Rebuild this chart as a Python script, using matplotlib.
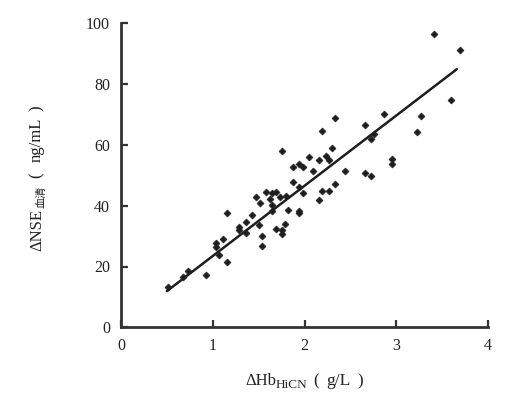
import matplotlib
matplotlib.use("Agg")
import matplotlib.pyplot as plt
from matplotlib.transforms import IdentityTransform

# 数据：ΔHb(HiCN) 与 ΔNSE(血清)
hb = [0.51, 0.68, 0.73, 0.93, 1.04, 1.04, 1.11, 1.07, 1.15, 1.15,
      1.29, 1.29, 1.36, 1.36, 1.43, 1.50, 1.54, 1.54, 1.47, 1.51,
      1.58, 1.62, 1.65, 1.65, 1.69, 1.73, 1.80, 1.65, 1.82, 1.94,
      1.94, 1.69, 1.76, 1.76, 1.79, 1.76, 1.87, 1.94, 1.98, 2.05,
      2.09, 2.16, 2.23, 2.27, 2.30, 2.19, 2.33, 1.87, 1.94, 1.98,
      2.19, 2.27, 2.33, 2.16, 2.44, 2.66, 2.73, 2.76, 2.87, 2.95,
      2.95, 2.66, 2.73, 3.23, 3.27, 3.60, 3.41, 3.70]
nse = [13.2, 16.4, 18.6, 17.2, 27.8, 26.5, 29.0, 23.8, 21.6, 37.5,
       33.1, 32.0, 34.5, 31.1, 36.9, 33.6, 30.1, 26.7, 42.8, 41.0,
       44.6, 42.2, 40.2, 44.3, 44.6, 43.0, 43.2, 38.4, 38.6, 38.4,
       37.5, 32.4, 32.0, 30.6, 33.9, 58.0, 52.8, 53.6, 52.8, 56.1,
       51.4, 54.9, 56.5, 55.0, 58.9, 64.7, 68.8, 47.7, 46.2, 44.1,
       45.0, 44.8, 47.1, 42.0, 51.5, 66.5, 62.0, 63.5, 70.3, 55.5,
       53.7, 50.6, 49.9, 64.3, 69.6, 74.8, 96.6, 91.2]

# 回归线两端
fit_hb = [0.50, 3.66]
fit_nse = [11.9, 84.9]

xticks = [0, 1, 2, 3, 4]
yticks = [0, 20, 40, 60, 80, 100]

plt.rcParams['font.family'] = ['Liberation Serif', 'Noto Sans CJK SC']
ink = '#1e1e1e'

fig = plt.figure(figsize=(5.24, 3.94), dpi=100)
ax = fig.add_axes([121 / 524, 1 - 327.3 / 394, 367 / 524, 304 / 394])
ax.plot(fit_hb, fit_nse, color=ink, lw=1.8, solid_capstyle='round')
ax.scatter(hb, nse, marker='D', s=13, color=ink, linewidths=0.4,
           edgecolors=ink, zorder=3, clip_on=False)
ax.set_xlim(0, 4)
ax.set_ylim(0, 100)
ax.set_xticks(xticks)
ax.set_yticks(yticks)
for s in ['top', 'right']:
    ax.spines[s].set_visible(False)
for s in ['left', 'bottom']:
    ax.spines[s].set_linewidth(2)
    ax.spines[s].set_color('#333333')
ax.tick_params(direction='in', length=5, width=1.6, color='#333333',
               labelsize=11.5, pad=8, labelcolor='#222222')

fig.canvas.draw()
r = fig.canvas.get_renderer()
H = 394


def put_row(pieces, x, y, rot=0):
    # pieces: (文本, 字号, 垂直偏移 px, 字体) 或者一个数字 = 空隙 px
    for p in pieces:
        if not isinstance(p, tuple):
            if rot == 0:
                x += p
            else:
                y += p
            continue
        txt, size, off, fam = p
        if rot == 0:
            t = fig.text(x, y + off, txt, fontsize=size, family=fam,
                         color='#222222', transform=IdentityTransform(),
                         ha='left', va='baseline')
            x += t.get_window_extent(r).width
        else:
            t = fig.text(x - off, y, txt, fontsize=size, family=fam,
                         color='#222222', transform=IdentityTransform(),
                         rotation=90, ha='left', va='baseline',
                         rotation_mode='anchor')
            y += t.get_window_extent(r).height


serif = ['Liberation Serif', 'Noto Sans CJK SC']
cjk = ['Noto Sans CJK SC']

# x 轴标题
put_row([('ΔHb', 12, 0, serif), ('HiCN', 9.5, -3, serif), 6,
         ('(', 12, 0, serif), 7, ('g/L', 12.5, 0, serif), 7,
         (')', 12, 0, serif)],
        245, H - 385)

# y 轴标题
put_row([('ΔNSE', 12, 0, serif), 1, ('血清', 8, -3, cjk), 8,
         ('(', 12, 0, serif), 10, ('ng/mL', 12, 0, serif), 7,
         (')', 12, 0, serif)],
        41, H - 251, rot=90)

fig.savefig('out.png', dpi=100)
